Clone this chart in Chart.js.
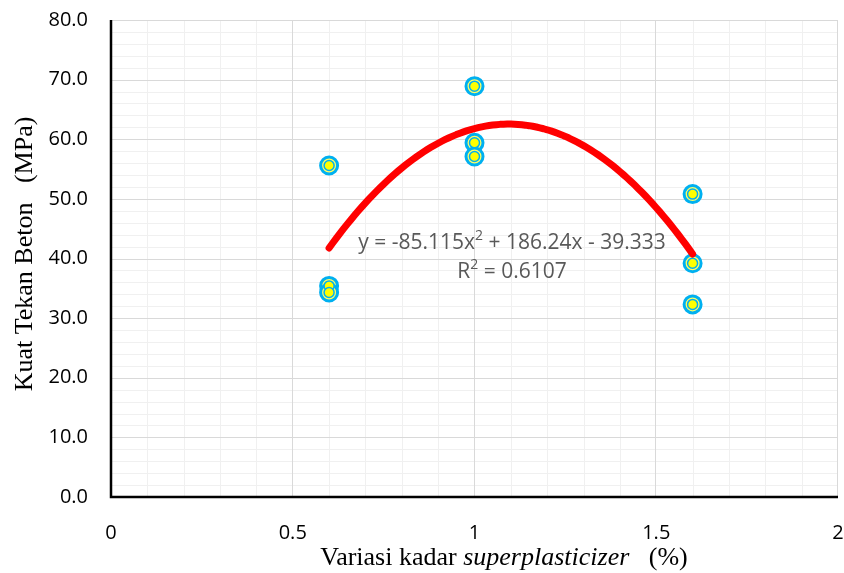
<!DOCTYPE html>
<html>
<head>
<meta charset="utf-8">
<script src="https://cdn.jsdelivr.net/npm/chart.js@4.4.1/dist/chart.umd.min.js"></script>
<style>
html,body{margin:0;padding:0;background:#fff;}
#wrap{width:844px;height:573px;position:relative;}
</style>
</head>
<body>
<div id="wrap"><canvas id="c" width="844" height="573"></canvas></div>
<script>
// Data
const xValues = [0.6, 0.6, 0.6, 1.0, 1.0, 1.0, 1.6, 1.6, 1.6];
const yValues = [55.6, 35.4, 34.3, 68.9, 59.4, 57.1, 50.8, 39.2, 32.3];
// Trendline coefficients shown on the chart (a, b, c for y = a x^2 + b x + c)
const trendCoef = [-85.115, 186.24, -39.333];
const trendRange = [0.6, 1.6];
const trendLabel = ['y = -85.115x', '2', ' + 186.24x - 39.333'];
const r2Label = ['R', '2', ' = 0.6107'];
const xTicks = [0, 0.5, 1, 1.5, 2];
const yTicks = [0, 10, 20, 30, 40, 50, 60, 70, 80];
const xTitle = ['Variasi kadar ', 'superplasticizer', '   (%)'];
const yTitle = 'Kuat Tekan Beton   (MPa)';

const points = xValues.map((x, i) => ({x: x, y: yValues[i]}));
const SANS = '"Open Sans", "Liberation Sans", sans-serif';
const SERIF = '"Liberation Serif", "Times New Roman", serif';

const customPlugin = {
  id: 'custom',
  beforeDatasetsDraw(chart) {
    const {ctx, chartArea: a, scales: {x, y}} = chart;
    ctx.save();
    ctx.strokeStyle = '#f0f0f0';
    ctx.lineWidth = 1;
    for (let i = 1; i < 20; i++) {
      if (i % 5 === 0) continue;
      const px = Math.round(x.getPixelForValue(i / 10)) + 0.5;
      ctx.beginPath(); ctx.moveTo(px, a.top); ctx.lineTo(px, a.bottom); ctx.stroke();
    }
    for (let v = 2; v < 80; v += 2) {
      if (v % 10 === 0) continue;
      const py = Math.round(y.getPixelForValue(v)) + 0.5;
      ctx.beginPath(); ctx.moveTo(a.left, py); ctx.lineTo(a.right, py); ctx.stroke();
    }
    ctx.strokeStyle = '#d9d9d9';
    xTicks.forEach(t => {
      const px = Math.round(x.getPixelForValue(t)) - 0.5;
      ctx.beginPath(); ctx.moveTo(px, a.top); ctx.lineTo(px, a.bottom); ctx.stroke();
    });
    yTicks.forEach(t => {
      const py = Math.round(y.getPixelForValue(t)) + 0.5;
      ctx.beginPath(); ctx.moveTo(a.left, py); ctx.lineTo(a.right, py); ctx.stroke();
    });
    ctx.strokeStyle = '#000';
    ctx.lineWidth = 2.5;
    ctx.beginPath();
    ctx.moveTo(a.left, a.top); ctx.lineTo(a.left, a.bottom); ctx.lineTo(a.right, a.bottom);
    ctx.stroke();
    ctx.restore();
  },
  afterDatasetsDraw(chart) {
    const {ctx, scales: {x, y}} = chart;
    ctx.save();
    ctx.strokeStyle = '#ff0000';
    ctx.lineWidth = 7;
    ctx.lineCap = 'round';
    ctx.lineJoin = 'round';
    ctx.beginPath();
    const n = 100;
    for (let i = 0; i <= n; i++) {
      const xv = trendRange[0] + (trendRange[1] - trendRange[0]) * i / n;
      const yv = trendCoef[0] * xv * xv + trendCoef[1] * xv + trendCoef[2];
      const px = x.getPixelForValue(xv), py = y.getPixelForValue(yv);
      if (i === 0) ctx.moveTo(px, py); else ctx.lineTo(px, py);
    }
    ctx.stroke();
    ctx.fillStyle = '#595959';
    ctx.textBaseline = 'alphabetic';
    const big = '21px ' + SANS, small = '14px ' + SANS;
    function supText(parts, cx, by) {
      ctx.font = big;
      const w0 = ctx.measureText(parts[0]).width;
      const w2 = ctx.measureText(parts[2]).width;
      ctx.font = small;
      const w1 = ctx.measureText(parts[1]).width;
      let sx = cx - (w0 + w1 + w2) / 2;
      ctx.textAlign = 'left';
      ctx.font = big; ctx.fillText(parts[0], sx, by);
      ctx.font = small; ctx.fillText(parts[1], sx + w0, by - 9);
      ctx.font = big; ctx.fillText(parts[2], sx + w0 + w1, by);
    }
    supText(trendLabel, 512, 249);
    supText(r2Label, 512, 278);
    ctx.fillStyle = '#000';
    const f1 = '26px ' + SERIF;
    const f2 = 'italic 26px ' + SERIF;
    ctx.font = f1; const a0 = ctx.measureText(xTitle[0]).width; const a2 = ctx.measureText(xTitle[2]).width;
    ctx.font = f2; const a1 = ctx.measureText(xTitle[1]).width;
    let sx = 504 - (a0 + a1 + a2) / 2;
    ctx.textAlign = 'left';
    ctx.textBaseline = 'middle';
    ctx.font = f1; ctx.fillText(xTitle[0], sx, 558);
    ctx.font = f2; ctx.fillText(xTitle[1], sx + a0, 558);
    ctx.font = f1; ctx.fillText(xTitle[2], sx + a0 + a1, 558);
    ctx.translate(25, 254);
    ctx.rotate(-Math.PI / 2);
    ctx.textAlign = 'center';
    ctx.font = f1;
    ctx.fillText(yTitle, 0, 0);
    ctx.restore();
  }
};

new Chart(document.getElementById('c'), {
  type: 'scatter',
  data: {
    datasets: [
      {
        data: points,
        order: 0,
        pointRadius: 5,
        pointHoverRadius: 5,
        pointBorderWidth: 1.5,
        pointBorderColor: '#00b0f0',
        pointBackgroundColor: '#ffff00'
      },
      {
        data: points,
        order: 1,
        pointRadius: 8.5,
        pointHoverRadius: 8.5,
        pointBorderWidth: 3,
        pointBorderColor: '#00b0f0',
        pointBackgroundColor: '#ffff66'
      }
    ]
  },
  options: {
    responsive: false,
    animation: false,
    devicePixelRatio: 1,
    layout: {autoPadding: false, padding: {top: 20, right: 6, left: 0, bottom: 0}},
    plugins: {legend: {display: false}, tooltip: {enabled: false}},
    scales: {
      x: {
        type: 'linear', min: 0, max: 2,
        afterBuildTicks: s => { s.ticks = xTicks.map(v => ({value: v})); },
        afterFit: s => { s.height = 76; s.paddingLeft = 0; s.paddingRight = 0; },
        grid: {display: false, drawTicks: false},
        border: {display: false},
        ticks: {
          color: '#000', padding: 24,
          font: {family: SANS, size: 20},
          callback: v => String(v),
          maxRotation: 0
        }
      },
      y: {
        min: 0, max: 80,
        afterBuildTicks: s => { s.ticks = yTicks.map(v => ({value: v})); },
        afterFit: s => { s.width = 111; s.paddingTop = 0; s.paddingBottom = 0; },
        grid: {display: false, drawTicks: false},
        border: {display: false},
        ticks: {
          color: '#000', padding: 23,
          font: {family: SANS, size: 20},
          callback: v => v.toFixed(1)
        }
      }
    }
  },
  plugins: [customPlugin]
});
</script>
</body>
</html>
